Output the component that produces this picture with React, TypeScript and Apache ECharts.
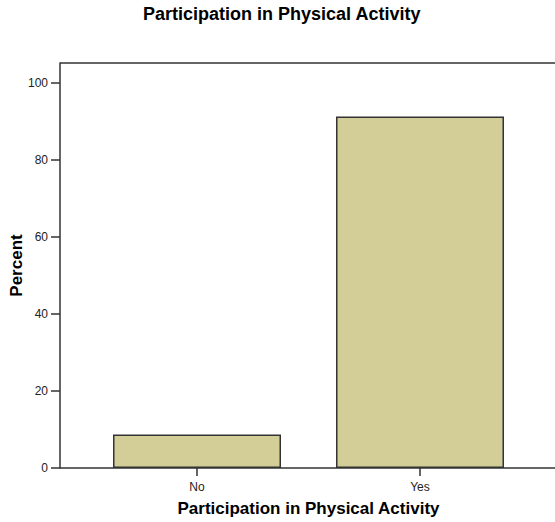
import React, { useEffect, useRef } from "react";
import * as echarts from "echarts";

const categories = ["No", "Yes"];
const percentValues = [8.7, 91.3];
const yTickValues = [0, 20, 40, 60, 80, 100];
const yMin = 0;
const yMax = 105.2;
const chartTitle = "Participation in Physical Activity";
const xAxisTitle = "Participation in Physical Activity";
const yAxisTitle = "Percent";

const FONT = "'Liberation Sans', Arial, sans-serif";

export default function App() {
  const ref = useRef<HTMLDivElement>(null);
  useEffect(() => {
    document.body.style.margin = "0";
    if (!ref.current) return;
    const chart = echarts.init(ref.current, null, { renderer: "svg" });
    const lineColor = "#333";
    chart.setOption({
      animation: false,
      backgroundColor: "#ffffff",
      title: {
        text: chartTitle,
        left: 138,
        top: 0,
        textStyle: { fontFamily: FONT, fontSize: 18, fontWeight: "bold", color: "#000" },
      },
      grid: { left: 85.5, top: 63, width: 446, height: 405, show: false, outerBoundsMode: "none" },
      xAxis: {
        type: "category",
        data: categories,
        axisLine: { show: false },
        axisTick: { show: true, alignWithLabel: true, length: 8, lineStyle: { color: lineColor, width: 1.5 } },
        axisLabel: { fontFamily: FONT, fontSize: 12, color: "#222", margin: 13 },
        name: xAxisTitle,
        nameLocation: "middle",
        nameGap: 32,
        nameMoveOverlap: false,
        nameTextStyle: { fontFamily: FONT, fontSize: 17, fontWeight: "bold", color: "#000" },
      },
      yAxis: {
        type: "value",
        min: yMin,
        max: yMax,
        offset: 25.5,
        splitLine: { show: false },
        axisLine: { show: true, lineStyle: { color: lineColor, width: 1.5 } },
        axisTick: { show: true, length: 9, customValues: yTickValues, lineStyle: { color: lineColor, width: 1.5 } },
        axisLabel: { fontFamily: FONT, fontSize: 12, color: "#222", margin: 12, customValues: yTickValues },
        name: yAxisTitle,
        nameLocation: "middle",
        nameGap: 35,
        nameMoveOverlap: false,
        nameRotate: 90,
        nameTextStyle: { fontFamily: FONT, fontSize: 17, fontWeight: "bold", color: "#000" },
      },
      series: [
        {
          type: "bar",
          data: percentValues,
          barWidth: 168,
          itemStyle: { color: "#D3CE97", borderColor: lineColor, borderWidth: 1.5 },
        },
      ],
    });
    // frame lines (top and bottom) from the axis' own scale
    const yTop = chart.convertToPixel({ yAxisIndex: 0 }, yMax) as number;
    const yBottom = chart.convertToPixel({ yAxisIndex: 0 }, yMin) as number;
    const xLeft = 60;
    const xRight = 560;
    chart.setOption({
      graphic: [
        {
          type: "line",
          z: 0,
          shape: { x1: xLeft, y1: yTop, x2: xRight, y2: yTop },
          style: { stroke: lineColor, lineWidth: 1.5 },
        },
        {
          type: "line",
          z: 0,
          shape: { x1: xLeft, y1: yBottom, x2: xRight, y2: yBottom },
          style: { stroke: lineColor, lineWidth: 1.5 },
        },
      ],
    });
    return () => chart.dispose();
  }, []);
  return <div ref={ref} style={{ width: 555, height: 522 }} />;
}
